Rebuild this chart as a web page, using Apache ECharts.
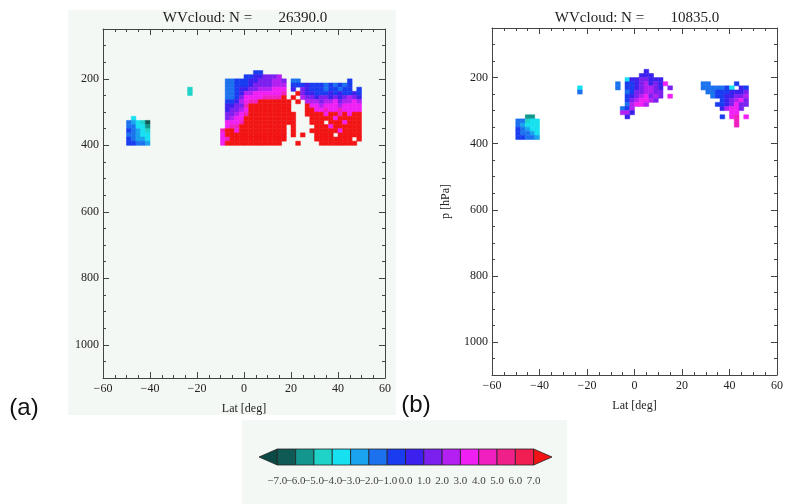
<!DOCTYPE html>
<html>
<head>
<meta charset="utf-8">
<script src="https://cdn.jsdelivr.net/npm/echarts@6/dist/echarts.min.js"></script>
<style>
html, body { margin: 0; padding: 0; background: #fff; }
#main { width: 786px; height: 504px; }
</style>
</head>
<body>
<div id="main"></div>
<script>
// each character is one 2 deg x 12.5 hPa cell, '.' = no data
const codes = '0123456789ABCDEF';
const codeValues = [-7.5, -6.5, -5.5, -4.5, -3.5, -2.5, -1.5, -0.5, 0.5, 1.5, 2.5, 3.5, 4.5, 5.5, 6.5, 7.5];

/*********** (a) ***********/
const titleA = 'WVcloud: N =       26390.0';
const aMainLat0 = -10, aMainP0 = 175;
const aMainRows = [
    '.......77......' + '...............',
    '.....7788999A..' + '...............',
    '.6677788999AA9.' + '66..........7..',
    '.6677789999AAA.' + '7778777676767..',
    '.6678899AAABBB.' + '8.98777677677.7',
    '.6678AABBBBBBC.' + '.F9887778787787',
    '.6679BBBBCCCCF.' + 'F.A998998989A98',
    '.778ABCCFFFFFFF' + '.F.AAA9AAB9AABA',
    '.8899CFFFFFFFFF' + '...FBBABBBABBBB',
    '.899ABFFFFFFFFF' + '...FFBBCBBCBBBB',
    '.99ABCFFFFFFFFF' + 'F..FFFFBFFCFBFF',
    '.9ABBFFFFFFFFFF' + 'F...FFFFFBFFFFF',
    '.BBBCFFFFFFFFFF' + 'F...FFF.FFFBFFF',
    '.BCCFFFFFFFFFF.' + 'F....FFFBFFFFFF',
    'CFFBFFFFFFFFFF.' + 'F...FFFFFFBFFFF',
    'BFFFFFFFFFFFFF.' + 'F.F..FFFF.FFFFF',
    'BCFFFFFFFFFFFF.' + '.....FFFFFFFF.F',
    'BFFFFFFFFFFFF..' + '.F....FFFFFFFF.'
];
const aSouthLat0 = -50, aSouthP0 = 312.5;
const aSouthRows = ['.4...', '65431', '66442', '76543', '66544', '76554', '77665'];
const aLoneLat0 = -24, aLoneP0 = 225;
const aLoneRows = ['3', '3'];

/*********** (b) ***********/
const titleB = 'WVcloud: N =       10835.0';
const bEqLat0 = -8, bEqP0 = 175;
const bEqRows = [
    '......8.....',
    '.....888....',
    '..48899888..',
    '6.7789A898B.',
    '6.7789AA98.9',
    '..6799AA99..',
    '..789AB9A9.B',
    '..79ABBA9...',
    '..6ABBA.....',
    '.67A........',
    '.AA8........',
    '..8.........'
];
const bNorthLat0 = 28, bNorthP0 = 212.5;
const bNorthRows = [
    '66.....7..',
    '6666674.87',
    '.667778889',
    '..6778899A',
    '....789AB9',
    '...7789B99',
    '....8ABB9.',
    '......BB..',
    '....7.BC.B',
    '.......C..',
    '.......C..'
];
const bSouthLat0 = -50, bSouthP0 = 312.5;
const bSouthRows = ['..22.', '66344', '65444', '76544', '76654', '77665'];
const bLoneLat0 = -24, bLoneP0 = 225;
const bLoneRows = ['4', '6'];

/*********** axes / colour bar ***********/
const latMin = -60, latMax = 60, latStep = 20;
const pMin = 50, pMax = 1100;
const pMajor = [200, 400, 600, 800, 1000];
const pMinor = [100, 150, 250, 300, 350, 450, 500, 550, 650, 700, 750, 850, 900, 950, 1050];
const binEdges = [-7, -6, -5, -4, -3, -2, -1, 0, 1, 2, 3, 4, 5, 6, 7];
// colour bar labels, split over two axes so the packed labels are all kept
const cbTicksOdd = [-7, -5, -3, -1, 1, 3, 5, 7];
const cbTicksEven = [-6, -4, -2, 0, 2, 4, 6];
const cbBins = [-7.5, -6.5, -5.5, -4.5, -3.5, -2.5, -1.5, -0.5, 0.5, 1.5, 2.5, 3.5, 4.5, 5.5, 6.5, 7.5];

const binColors = ['#0f5a55', '#12968e', '#1fd3c9', '#17e0f0', '#1aa3ee', '#1c72ee', '#1a3cf0',
                   '#3b20ee', '#7c20f0', '#b420f2', '#f020f4', '#f020c0', '#f0208a', '#f01e52'];
const underColor = '#0a4944';
const overColor = '#f21414';

const SERIF = "'Liberation Serif', 'Times New Roman', serif";
const AXIS = '#444';
const TXT = '#222';

function toCells(rows, lat0, p0) {
    const out = [];
    rows.forEach(function (row, r) {
        for (let c = 0; c < row.length; c++) {
            const k = codes.indexOf(row[c]);
            if (k < 0) continue;
            out.push([lat0 + 2 * c + 1, p0 + 12.5 * r + 6.25, codeValues[k]]);
        }
    });
    return out;
}

const aCells = [].concat(
    toCells(aMainRows, aMainLat0, aMainP0),
    toCells(aSouthRows, aSouthLat0, aSouthP0),
    toCells(aLoneRows, aLoneLat0, aLoneP0)
);
const bCells = [].concat(
    toCells(bEqRows, bEqLat0, bEqP0),
    toCells(bNorthRows, bNorthLat0, bNorthP0),
    toCells(bSouthRows, bSouthLat0, bSouthP0),
    toCells(bLoneRows, bLoneLat0, bLoneP0)
);

const minus = function (s) { return String(s).replace('-', '\u2212'); };

function axisX(gi, pos) {
    const bottom = pos === 'bottom';
    return {
        gridIndex: gi,
        type: 'value',
        position: pos,
        min: latMin,
        max: latMax,
        interval: latStep,
        axisLine: { show: true, onZero: false, lineStyle: { color: AXIS, width: 1 } },
        axisTick: { show: true, inside: true, length: 6, lineStyle: { color: AXIS } },
        minorTick: { show: true, splitNumber: 4, length: 3, lineStyle: { color: AXIS } },
        splitLine: { show: false },
        axisLabel: {
            show: bottom, margin: 5, color: TXT, fontFamily: SERIF, fontSize: 12,
            showMinLabel: true, showMaxLabel: true,
            formatter: minus
        },
        name: bottom ? 'Lat [deg]' : '',
        nameLocation: 'middle',
        nameGap: 25,
        nameTextStyle: { color: TXT, fontFamily: SERIF, fontSize: 12 }
    };
}

function axisY(gi, pos, ticks, len, major, label, name) {
    return {
        gridIndex: gi,
        type: 'value',
        position: pos,
        inverse: true,
        min: pMin,
        max: pMax,
        axisLine: { show: major, onZero: false, lineStyle: { color: AXIS, width: 1 } },
        axisTick: { show: true, inside: true, length: len, customValues: ticks, lineStyle: { color: AXIS } },
        splitLine: { show: false },
        axisLabel: {
            show: label, customValues: ticks, margin: 4, color: TXT, fontFamily: SERIF, fontSize: 12,
            formatter: function (v) { return String(v); }
        },
        name: name || '',
        nameLocation: 'middle',
        nameGap: 40,
        nameTextStyle: { color: TXT, fontFamily: SERIF, fontSize: 12 }
    };
}

function yAxes(gi, name) {
    return [
        axisY(gi, 'left', pMajor, 6, true, true, name),
        axisY(gi, 'left', pMinor, 3, false, false),
        axisY(gi, 'right', pMajor, 6, true, false),
        axisY(gi, 'right', pMinor, 3, false, false)
    ];
}

function cbAxis(ticks) {
    return {
        gridIndex: 2, type: 'value', position: 'bottom', min: -8, max: 8,
        axisLine: { show: false }, axisTick: { show: false }, splitLine: { show: false },
        axisLabel: {
            customValues: ticks, margin: 11, color: '#444', fontFamily: SERIF, fontSize: 11,
            showMinLabel: true, showMaxLabel: true,
            formatter: function (v) { return minus(v.toFixed(1)); }
        }
    };
}

function renderCell(params, api) {
    const lat = api.value(0), p = api.value(1);
    const a = api.coord([lat - 1, p - 6.25]);
    const b = api.coord([lat + 1, p + 6.25]);
    const color = api.visual('color');
    return {
        type: 'rect',
        shape: {
            x: Math.min(a[0], b[0]), y: Math.min(a[1], b[1]),
            width: Math.abs(b[0] - a[0]), height: Math.abs(b[1] - a[1])
        },
        style: { fill: color, stroke: color, lineWidth: 0.5 }
    };
}

function renderBar(params, api) {
    const mid = api.value(0);
    const lo = api.coord([mid - 0.5, 0]);
    const hi = api.coord([mid + 0.5, 1]);
    const bottom = lo[1], top = hi[1], cy = (top + bottom) / 2;
    const style = { fill: api.visual('color'), stroke: '#222', lineWidth: 0.8 };
    if (mid < binEdges[0]) {
        return { type: 'polygon', shape: { points: [[hi[0], top], [hi[0], bottom], [lo[0], cy]] }, style: style };
    }
    if (mid > binEdges[binEdges.length - 1]) {
        return { type: 'polygon', shape: { points: [[lo[0], top], [lo[0], bottom], [hi[0], cy]] }, style: style };
    }
    return { type: 'rect', shape: { x: lo[0], y: top, width: hi[0] - lo[0], height: bottom - top }, style: style };
}

const pieces = [{ lt: binEdges[0], color: underColor }];
for (let i = 0; i < binColors.length; i++) {
    pieces.push({ gte: binEdges[i], lt: binEdges[i + 1], color: binColors[i] });
}
pieces.push({ gte: binEdges[binEdges.length - 1], color: overColor });

const chart = echarts.init(document.getElementById('main'), null, { renderer: 'canvas' });

const option = {
    animation: false,
    backgroundColor: '#fff',
    graphic: [
        { type: 'rect', z: -10, shape: { x: 68, y: 10, width: 328, height: 405 }, style: { fill: '#f4f8f4' } },
        { type: 'rect', z: -10, shape: { x: 242, y: 420, width: 325, height: 84 }, style: { fill: '#f4f8f4' } },
        { type: 'text', x: 245, y: 18, style: { text: titleA, font: '15px ' + SERIF, fill: TXT, align: 'center', verticalAlign: 'middle', textAlign: 'center', textVerticalAlign: 'middle' } },
        { type: 'text', x: 637, y: 18, style: { text: titleB, font: '15px ' + SERIF, fill: TXT, align: 'center', verticalAlign: 'middle', textAlign: 'center', textVerticalAlign: 'middle' } },
        { type: 'text', x: 24, y: 408, style: { text: '(a)', font: "24px 'Liberation Sans', Arial, sans-serif", fill: '#111', align: 'center', verticalAlign: 'middle', textAlign: 'center', textVerticalAlign: 'middle' } },
        { type: 'text', x: 416, y: 405, style: { text: '(b)', font: "24px 'Liberation Sans', Arial, sans-serif", fill: '#111', align: 'center', verticalAlign: 'middle', textAlign: 'center', textVerticalAlign: 'middle' } }
    ],
    grid: [
        { left: 103, top: 29, width: 282, height: 349 },
        { left: 492, top: 28, width: 288, height: 347 },
        { left: 259, top: 449, width: 293, height: 16 }
    ],
    xAxis: [
        axisX(0, 'bottom'),
        axisX(0, 'top'),
        axisX(1, 'bottom'),
        axisX(1, 'top'),
        cbAxis(cbTicksOdd),
        cbAxis(cbTicksEven)
    ],
    yAxis: [].concat(
        yAxes(0),
        yAxes(1, 'p [hPa]'),
        [{ gridIndex: 2, type: 'value', min: 0, max: 1, show: false }]
    ),
    visualMap: {
        type: 'piecewise',
        show: false,
        dimension: 2,
        seriesIndex: [0, 1, 2],
        pieces: pieces
    },
    series: [
        {
            name: 'a', type: 'custom', xAxisIndex: 0, yAxisIndex: 0,
            renderItem: renderCell, clip: true, encode: { x: 0, y: 1 }, data: aCells
        },
        {
            name: 'b', type: 'custom', xAxisIndex: 2, yAxisIndex: 4,
            renderItem: renderCell, clip: true, encode: { x: 0, y: 1 }, data: bCells
        },
        {
            name: 'colorbar', type: 'custom', xAxisIndex: 4, yAxisIndex: 8,
            renderItem: renderBar, encode: { x: 0, y: 1 },
            data: cbBins.map(function (m) { return [m, 0.5, m]; })
        }
    ]
};

chart.setOption(option);
</script>
</body>
</html>
